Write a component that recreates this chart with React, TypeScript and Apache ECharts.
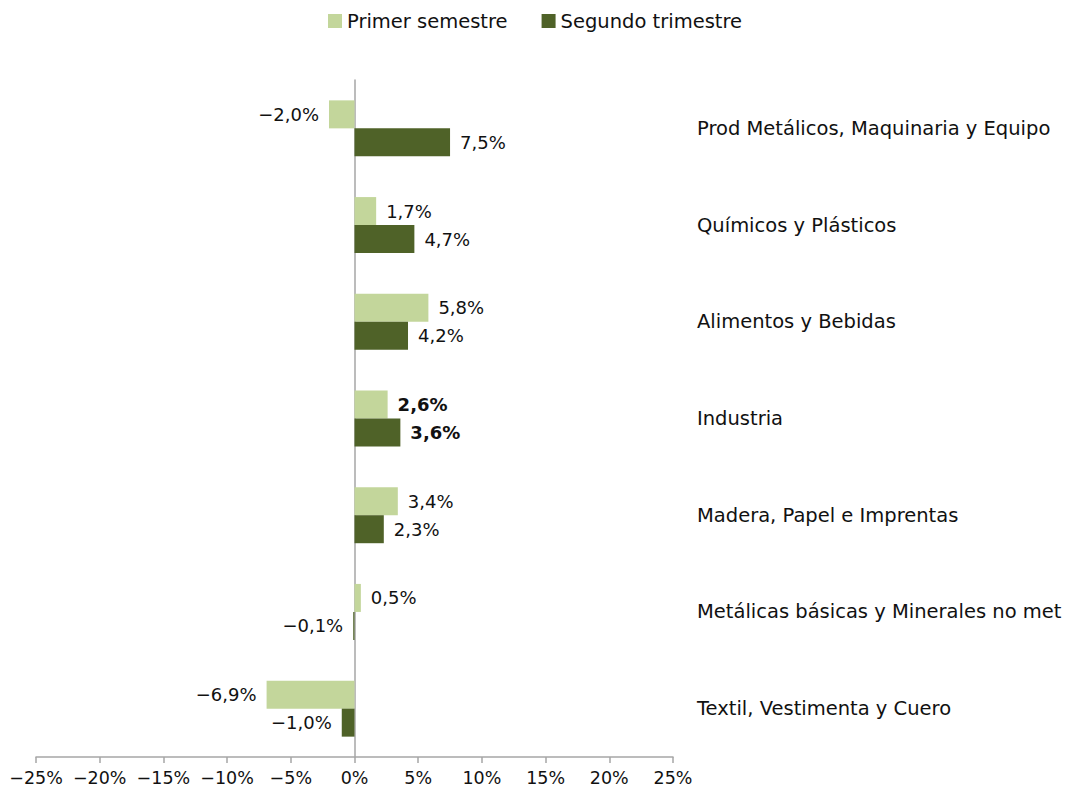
import React, { useEffect, useRef } from "react";
import * as echarts from "echarts";

const categories = [
  "Prod Metálicos, Maquinaria y Equipo",
  "Químicos y Plásticos",
  "Alimentos y Bebidas",
  "Industria",
  "Madera, Papel e Imprentas",
  "Metálicas básicas y Minerales no met",
  "Textil, Vestimenta y Cuero",
];
const primerSemestre = [-2.0, 1.7, 5.8, 2.6, 3.4, 0.5, -6.9];
const segundoTrimestre = [7.5, 4.7, 4.2, 3.6, 2.3, -0.1, -1.0];
const xTicks = [-25, -20, -15, -10, -5, 0, 5, 10, 15, 20, 25];
const boldCategory = "Industria";

const FONT = "DejaVu Sans";

const fmt = (v: number) => {
  const s = Math.abs(v).toFixed(1).replace(".", ",") + "%";
  return v < 0 ? "\u2212" + s : s;
};

function buildData(values: number[]) {
  return values.map((v, i) => ({
    value: v,
    label: {
      position: v < 0 ? "left" : "right",
      fontWeight: categories[i] === boldCategory ? "bold" : "normal",
    },
  }));
}

export default function App() {
  const ref = useRef<HTMLDivElement>(null);
  useEffect(() => {
    if (!ref.current) return;
    const chart = echarts.init(ref.current, undefined, { renderer: "svg" });
    const labelBase = {
      show: true,
      distance: 10,
      color: "#111",
      fontSize: 18,
      fontFamily: FONT,
      formatter: (p: any) => fmt(p.value),
    };
    chart.setOption({
      animation: false,
      textStyle: { fontFamily: FONT },
      legend: {
        top: 6,
        left: "center",
        icon: "rect",
        itemWidth: 14,
        itemHeight: 14,
        itemGap: 34,
        textStyle: { fontSize: 19.5, color: "#111", fontFamily: FONT },
        data: ["Primer semestre", "Segundo trimestre"],
      },
      grid: { left: 36, right: 397, top: 80, bottom: 41, containLabel: false },
      xAxis: {
        type: "value",
        min: xTicks[0],
        max: xTicks[xTicks.length - 1],
        interval: 5,
        splitLine: { show: false },
        axisLine: { show: true, lineStyle: { color: "#a6a6a6", width: 1.5 } },
        axisTick: { show: true, length: 6, lineStyle: { color: "#a6a6a6", width: 1.5 } },
        axisLabel: {
          fontSize: 17.5,
          color: "#111",
          fontFamily: FONT,
          margin: 12,
          formatter: (v: number) => (v < 0 ? "\u2212" + Math.abs(v) : v) + "%",
        },
      },
      yAxis: [
        {
          type: "category",
          inverse: true,
          data: categories,
          axisLine: { show: true, onZero: true, lineStyle: { color: "#a6a6a6", width: 1.5 } },
          axisTick: { show: false },
          axisLabel: { show: false },
        },
        {
          type: "category",
          inverse: true,
          position: "right",
          data: categories,
          axisLine: { show: false },
          axisTick: { show: false },
          axisLabel: {
            show: true,
            align: "left",
            margin: 24,
            fontSize: 19.5,
            color: "#111",
            fontFamily: FONT,
          },
        },
      ],
      series: [
        {
          name: "Primer semestre",
          type: "bar",
          yAxisIndex: 0,
          barWidth: 28,
          barGap: "0%",
          itemStyle: { color: "#c3d69b" },
          label: labelBase,
          data: buildData(primerSemestre),
        },
        {
          name: "Segundo trimestre",
          type: "bar",
          yAxisIndex: 0,
          barWidth: 28,
          barGap: "0%",
          itemStyle: { color: "#4f6228" },
          label: labelBase,
          data: buildData(segundoTrimestre),
        },
      ],
    });
    return () => chart.dispose();
  }, []);
  return <div ref={ref} style={{ width: 1070, height: 798, margin: -8 }} />;
}
